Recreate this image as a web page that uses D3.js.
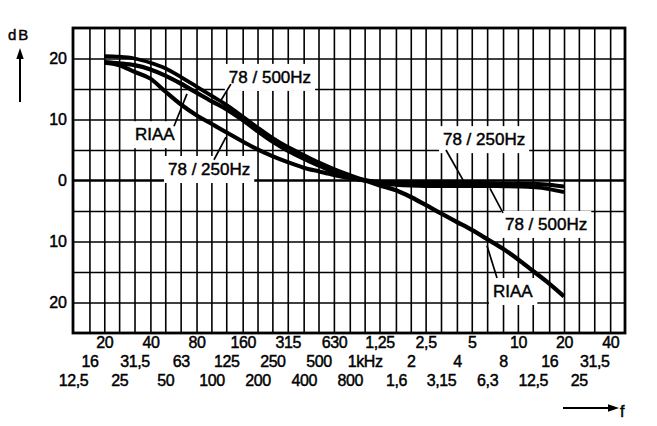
<!DOCTYPE html>
<html><head><meta charset="utf-8">
<script src="https://cdn.jsdelivr.net/npm/d3@7"></script>
<style>
html,body{margin:0;padding:0;background:#fff;}
svg{display:block;background:#fff;}
text{font-family:"Liberation Sans",Arial,sans-serif;fill:#000;stroke:#000;stroke-width:0.45px;}
</style></head><body>
<svg id="chart" width="657" height="426"></svg>
<script>
// ---- data ----
const freqs = [20,25,31.5,40,50,63,80,100,125,160,200,250,315,400,500,630,800,1000,1250,1600,2000,2500,3150,4000,5000,6300,8000,10000,12500,16000,20000];
const riaa    = [19.4,19.2,18.9,18.2,17.2,15.9,14.4,13.0,11.7,9.9,8.1,6.4,4.9,3.6,2.5,1.4,0.6,0,-0.8,-1.6,-2.7,-4.0,-5.4,-6.8,-8.1,-9.6,-11.2,-12.9,-14.8,-16.9,-19.0];
const r78_500 = [20.4,20.3,20.0,19.3,18.4,17.0,15.4,13.9,12.4,10.5,8.7,7.0,5.5,4.2,3.0,1.9,0.9,0.1,-0.4,-0.7,-0.85,-0.9,-0.9,-0.9,-0.9,-0.9,-0.95,-1.0,-1.1,-1.4,-1.9];
const r78_250 = [19.3,18.9,17.8,16.7,14.6,12.5,10.7,9.3,7.9,6.4,5.1,4.0,3.0,2.1,1.5,0.9,0.4,0,-0.2,-0.3,-0.35,-0.4,-0.4,-0.4,-0.4,-0.45,-0.5,-0.5,-0.55,-0.7,-1.0];
const gridFreqs = [12.5,16,20,25,31.5,40,50,63,80,100,125,160,200,250,315,400,500,630,800,1000,1250,1600,2000,2500,3150,4000,5000,6300,8000,10000,12500,16000,20000,25000,31500,40000,50000];
const tickLabels = ["12,5","16","20","25","31,5","40","50","63","80","100","125","160","200","250","315","400","500","630","800","1kHz","1,25","1,6","2","2,5","3,15","4","5","6,3","8","10","12,5","16","20","25","31,5","40"];
const dbTicks = [20,10,0,-10,-20];
const dbGrid = [20,15,10,5,-5,-10,-15,-20];
const seriesNames = ["RIAA","78 / 500Hz","78 / 250Hz"];
// annotations: text anchor (f, dB) and pointer from/to (f, dB)
const annotations = [
  {text:"78 / 500Hz", f:130,  db:16.0,  p:[[134,15.8],[114,12.9]]},
  {text:"RIAA",       f:31.7, db:6.6,   p:[[57,8.9],[69.3,14.2]]},
  {text:"78 / 250Hz", f:52.1, db:0.9,   p:[[104,3.4],[124.5,7.1]]},
  {text:"78 / 250Hz", f:3245, db:5.8,   p:[[3395,5.0],[4380,0.1]]},
  {text:"78 / 500Hz", f:8238, db:-8.1,  p:[[7994,-5.3],[6575,-1.3]]},
  {text:"RIAA",       f:6881, db:-19.1, p:[[7308,-16.0],[6288,-10.7]]}
];

// ---- layout ----
const L=73, R=625, T=28, B=333;
const svg = d3.select("#chart");
const x = d3.scaleLog().domain([12.5,50000]).range([L,R]);
const y = d3.scaleLinear().domain([25,-25]).range([T,B]);

// vertical grid
const vg = svg.append("g").attr("transform",`translate(0,${B})`)
  .call(d3.axisBottom(x).tickValues(gridFreqs.slice(1,-1)).tickSize(-(B-T)).tickFormat(""));
vg.select(".domain").remove();
vg.selectAll("line").attr("stroke","#000").attr("stroke-width",1.6);
// horizontal grid
const hg = svg.append("g").attr("transform",`translate(${L},0)`)
  .call(d3.axisLeft(y).tickValues(dbGrid).tickSize(-(R-L)).tickFormat(""));
hg.select(".domain").remove();
hg.selectAll("line").attr("stroke","#000").attr("stroke-width",1.6);
// zero line
svg.append("line").attr("x1",L).attr("x2",R).attr("y1",y(0)).attr("y2",y(0))
  .attr("stroke","#000").attr("stroke-width",2.6);
// frame
svg.append("rect").attr("x",L).attr("y",T).attr("width",R-L).attr("height",B-T)
  .attr("fill","none").attr("stroke","#000").attr("stroke-width",2.8);

// y axis labels
const ya = svg.append("g").attr("transform",`translate(${L},0)`)
  .call(d3.axisLeft(y).tickValues(dbTicks).tickSize(0).tickPadding(6).tickFormat(d=>Math.abs(d)));
ya.select(".domain").remove();
ya.selectAll("text").attr("font-size",16).attr("font-family","Liberation Sans, Arial, sans-serif");

// x axis label rows
const rows = [{mod:2,pad:4},{mod:1,pad:23},{mod:0,pad:42}];
rows.forEach(r=>{
  const vals = gridFreqs.slice(0,36).filter((d,i)=>i%3===r.mod);
  const g = svg.append("g").attr("transform",`translate(0,${B})`)
    .call(d3.axisBottom(x).tickValues(vals).tickSize(0).tickPadding(r.pad)
      .tickFormat(d=>tickLabels[gridFreqs.indexOf(d)]));
  g.select(".domain").remove();
  g.selectAll("text").attr("font-size",16).attr("letter-spacing","-0.4")
   .attr("font-family","Liberation Sans, Arial, sans-serif");
});

// annotation boxes (white, hide grid)
const annG = svg.append("g");
const annTexts = annotations.map(a=>{
  const t = annG.append("text").attr("x",x(a.f)).attr("y",y(a.db))
    .attr("font-size",17).text(a.text);
  return t;
});
const boxG = svg.insert("g", () => annG.node());
annTexts.forEach(t=>{
  const bb = t.node().getBBox();
  boxG.append("rect").attr("x",bb.x-4).attr("y",bb.y-4)
    .attr("width",bb.width+8).attr("height",bb.height+8).attr("fill","#fff");
});

// curves
const line = d3.line().x(d=>x(d[0])).y(d=>y(d[1])).curve(d3.curveMonotoneX);
const seriesData = [riaa, r78_500, r78_250];
const widths = [4.3,3.8,4.1];
seriesData.forEach((s,i)=>{
  svg.append("path").datum(freqs.map((f,j)=>[f,s[j]]))
    .attr("d",line).attr("fill","none").attr("stroke","#000")
    .attr("stroke-width",widths[i]).attr("stroke-linejoin","round").attr("stroke-linecap","butt")
    .attr("class","series").attr("data-name",seriesNames[i]);
});

// pointers
annotations.forEach(a=>{
  svg.append("line").attr("x1",x(a.p[0][0])).attr("y1",y(a.p[0][1]))
    .attr("x2",x(a.p[1][0])).attr("y2",y(a.p[1][1]))
    .attr("stroke","#000").attr("stroke-width",1.7);
});
svg.node().appendChild(annG.node());

// dB axis title and arrow
svg.append("text").attr("x",8).attr("y",40).attr("font-size",15).attr("letter-spacing",2).text("dB");
svg.append("line").attr("x1",20).attr("x2",20).attr("y1",102).attr("y2",57).attr("stroke","#000").attr("stroke-width",2);
svg.append("path").attr("d","M20,48 L16.3,59 L23.7,59 Z").attr("fill","#000");
// f arrow
svg.append("line").attr("x1",563).attr("x2",610).attr("y1",408).attr("y2",408).attr("stroke","#000").attr("stroke-width",2);
svg.append("path").attr("d","M619,408 L608,404.3 L608,411.7 Z").attr("fill","#000");
svg.append("text").attr("x",620).attr("y",417).attr("font-size",16).text("f");
</script>
</body></html>
